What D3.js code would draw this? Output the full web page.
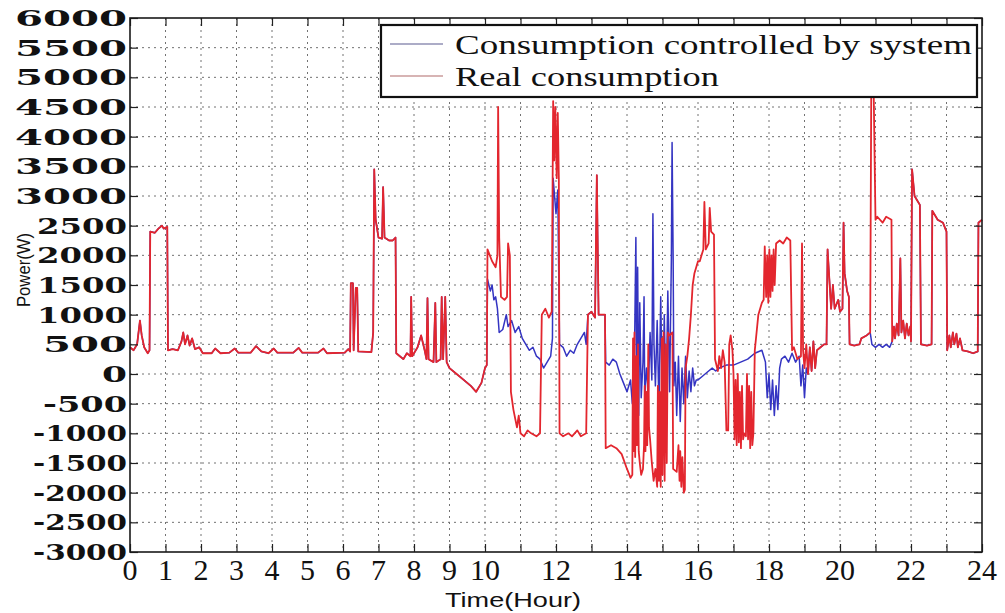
<!DOCTYPE html>
<html><head><meta charset="utf-8">
<script src="https://cdn.jsdelivr.net/npm/d3@7"></script>
<style>body{margin:0;background:#fff}</style>
</head><body>
<svg id="c" width="1005" height="613"></svg>
<script>
// ---------- data ----------
const yTicks = [6000,5500,5000,4500,4000,3500,3000,2500,2000,1500,1000,500,0,-500,-1000,-1500,-2000,-2500,-3000];
const xTicks = [0,1,2,3,4,5,6,7,8,9,10,11,12,13,14,15,16,17,18,19,20,21,22,23,24];
const xTickLabels = [0,1,2,3,4,5,6,7,8,9,10,12,14,16,18,20,22,24];
const seriesNames = ["Consumption controlled by system","Real consumption"];

// Real consumption: [hour, watts]
const realConsumption = [
[0,450],[0.1,400],[0.2,500],[0.28,900],[0.33,650],[0.4,450],[0.5,350],[0.55,400],[0.57,2400],[0.7,2380],[0.8,2450],[0.9,2500],[0.95,2450],[1.05,2480],
[1.07,400],[1.2,420],[1.35,400],[1.45,550],[1.5,700],[1.55,500],[1.62,650],[1.68,480],[1.75,600],[1.83,420],[1.95,450],[2.05,350],[2.3,350],[2.4,430],[2.55,350],
[2.8,360],[2.95,430],[3.05,360],[3.4,360],[3.55,470],[3.7,380],[3.9,350],[4.05,430],[4.15,360],[4.6,360],[4.75,440],[4.85,360],[5.3,360],[5.45,430],[5.55,350],
[6.05,360],[6.15,420],[6.2,380],[6.22,1530],[6.28,1530],[6.3,400],[6.36,1450],[6.4,1450],[6.43,380],[6.8,370],[6.85,700],[6.88,3450],[6.92,2600],[7.0,2300],
[7.1,2280],[7.13,3150],[7.17,2300],[7.3,2250],[7.4,2250],[7.48,2300],[7.5,350],[7.6,300],[7.7,250],[7.8,350],[7.9,300],[7.92,1300],[7.95,300],[8.1,450],
[8.2,650],[8.3,400],[8.35,250],[8.38,1280],[8.41,250],[8.55,200],[8.6,1200],[8.63,200],[8.75,250],[8.78,1300],[8.82,250],[8.88,1300],[8.92,200],[9.0,100],
[9.2,0],[9.4,-100],[9.6,-200],[9.75,-300],[9.9,-150],[10.0,100],[10.05,150],[10.07,2100],[10.2,1900],[10.3,1800],[10.35,2000],[10.37,4500],[10.4,2300],
[10.45,1300],[10.55,1250],[10.62,1300],[10.65,2200],[10.7,2000],[10.73,-300],[10.8,-600],[10.9,-900],[10.95,-700],[11.0,-1000],[11.1,-1050],[11.2,-950],
[11.3,-1000],[11.45,-1050],[11.55,-1000],[11.6,1000],[11.7,1100],[11.8,950],[11.88,1050],[11.92,4600],[11.95,3600],[11.98,4500],[12.02,3300],[12.05,4400],
[12.08,3300],[12.1,-1000],[12.2,-1050],[12.35,-1000],[12.45,-1050],[12.6,-950],[12.7,-1050],[12.85,-1000],[12.9,1000],[13.0,1050],[13.1,950],[13.15,3350],
[13.2,1000],[13.38,1000],[13.4,-1250],[13.55,-1200],[13.7,-1250],[13.85,-1350],[14.0,-1600],[14.1,-1750],[14.15,-1700],[14.17,600],[14.19,-1300],[14.21,700],
[14.23,-1400],[14.26,300],[14.28,-1200],[14.31,500],[14.33,-1300],[14.36,-1500],[14.4,-1700],[14.45,-1600],[14.48,-1200],[14.5,-200],[14.52,-1300],[14.55,-300],
[14.57,-1200],[14.6,500],[14.62,-900],[14.65,-1100],[14.7,-1500],[14.75,-1800],[14.8,-1600],[14.85,-1900],[14.87,-200],[14.9,-1800],[14.92,-300],[14.95,-1900],
[14.98,600],[15.0,-1700],[15.03,700],[15.06,-1800],[15.09,500],[15.12,-1500],[15.15,700],[15.2,650],[15.28,700],[15.3,-1600],[15.4,-1650],[15.45,-1200],
[15.48,-1800],[15.5,-1300],[15.53,-1900],[15.56,-1400],[15.6,-2000],[15.63,-1950],[15.65,100],[15.7,300],[15.75,600],[15.8,1000],[15.85,1500],[15.9,1700],
[15.95,1800],[16.0,1900],[16.05,1900],[16.1,2000],[16.15,2100],[16.18,2900],[16.22,2100],[16.3,2200],[16.33,2800],[16.37,2400],[16.45,2350],[16.48,250],
[16.56,50],[16.6,300],[16.65,100],[16.7,400],[16.75,200],[16.8,-950],[16.85,-950],[16.88,500],[16.92,650],[16.97,400],[17.0,0],[17.03,-1100],[17.06,-100],
[17.09,-1200],[17.12,0],[17.15,-1150],[17.18,-300],[17.21,-1250],[17.24,-200],[17.27,-1100],[17.3,-1000],[17.35,-1050],[17.38,0],[17.41,-1100],[17.44,-200],
[17.47,-1250],[17.5,-300],[17.53,-1200],[17.56,-1000],[17.6,400],[17.65,700],[17.7,1000],[17.75,1100],[17.8,1200],[17.85,1250],[17.88,2150],[17.92,1300],
[17.95,2000],[17.98,1200],[18.01,2100],[18.04,1300],[18.07,2000],[18.1,1400],[18.13,2100],[18.16,1500],[18.2,2200],[18.3,2250],[18.4,2200],[18.5,2300],
[18.6,2250],[18.65,400],[18.7,450],[18.8,250],[18.9,300],[18.93,2200],[18.96,400],[19.0,100],[19.05,500],[19.1,0],[19.15,450],[19.2,50],[19.25,550],[19.3,100],
[19.35,400],[19.45,450],[19.55,500],[19.62,500],[19.65,2100],[19.7,1600],[19.75,1100],[19.8,1500],[19.85,1100],[19.95,1250],[20.0,1050],[20.07,1100],
[20.1,2550],[20.13,1700],[20.2,1400],[20.25,1300],[20.27,500],[20.4,480],[20.55,500],[20.6,600],[20.75,650],[20.85,700],[20.88,4700],[20.95,4700],[21.0,2600],
[21.05,2650],[21.2,2550],[21.3,2650],[21.45,2600],[21.47,550],[21.52,800],[21.55,600],[21.6,850],[21.65,650],[21.7,1950],[21.73,700],[21.78,900],[21.83,600],
[21.88,850],[21.93,650],[21.98,800],[22.0,550],[22.03,3450],[22.1,3000],[22.2,2900],[22.25,2850],[22.28,500],[22.45,480],[22.58,500],[22.6,2750],[22.75,2600],
[22.9,2550],[23.0,2400],[23.02,400],[23.08,650],[23.12,450],[23.18,700],[23.22,500],[23.28,680],[23.32,450],[23.38,600],[23.45,400],[23.6,380],[23.75,350],
[23.88,380],[23.9,2550],[24.0,2600]
];

// Consumption controlled by system: where it differs from the real consumption
const controlledA = [
[10.05,150],[10.07,1600],[10.15,1400],[10.2,1500],[10.25,1250],[10.3,1300],[10.35,1100],[10.4,700],[10.5,750],[10.6,1000],[10.65,800],[10.75,900],[10.85,700],
[10.95,800],[11.05,600],[11.15,500],[11.25,400],[11.35,450],[11.45,300],[11.55,250],[11.65,100],[11.75,200],[11.85,300],[11.9,600],[11.92,3300],[12.0,2700],
[12.05,3100],[12.1,500],[12.2,450],[12.3,300],[12.4,400],[12.5,350],[12.6,500],[12.7,600],[12.8,700],[12.85,500],[12.9,1000]
];
const controlledB = [
[13.38,1000],[13.4,200],[13.5,150],[13.6,250],[13.7,200],[13.8,0],[13.9,-150],[14.0,-300],[14.1,-100],[14.15,-500],[14.2,-200],[14.25,2300],[14.28,-600],
[14.3,1800],[14.33,-700],[14.36,1200],[14.4,-400],[14.45,200],[14.48,1300],[14.5,-400],[14.55,100],[14.6,-300],[14.65,700],[14.7,-100],[14.73,2700],[14.76,500],
[14.8,-200],[14.85,900],[14.9,-600],[14.95,1300],[15.0,-700],[15.05,1000],[15.1,-500],[15.15,1400],[15.2,-300],[15.25,1950],[15.27,3900],[15.3,1950],[15.32,-200],
[15.36,200],[15.4,-700],[15.45,300],[15.5,-800],[15.55,100],[15.6,-500],[15.65,300],[15.7,-400],[15.75,50],[15.8,-300],[15.85,100],[15.9,-200],[15.95,-100],
[16.0,-100],[16.1,-50],[16.2,0],[16.3,50],[16.4,100],[16.5,50],[16.6,100],[16.8,150],[17.0,150],[17.2,200],[17.4,250],[17.6,350],[17.8,400],[17.9,200],
[17.95,-400],[18.0,0],[18.05,-600],[18.1,-100],[18.15,-700],[18.2,-200],[18.25,-600],[18.3,100],[18.35,250],[18.45,300],[18.55,200],[18.65,350],[18.75,200],
[18.85,300],[18.9,-200],[18.95,150],[19.0,-400],[19.05,100],[19.1,0]
];
const controlledC = [
[20.85,700],[20.9,500],[21.0,450],[21.1,500],[21.2,450],[21.3,500],[21.4,450],[21.47,550]
];

// build the controlled series: real values outside the segments, own values inside
function buildControlled(real, segs){
  const out = [];
  let i = 0;
  segs.forEach(seg => {
    const s = seg[0][0], e = seg[seg.length-1][0];
    while (i < real.length && real[i][0] < s) out.push(real[i++]);
    seg.forEach(p => out.push(p));
    while (i < real.length && real[i][0] <= e) i++;
  });
  while (i < real.length) out.push(real[i++]);
  return out;
}
const controlledConsumption = buildControlled(realConsumption, [controlledA, controlledB, controlledC]);

// ---------- drawing ----------
const W = 1005, H = 613;
const L = 130, R = 982, T = 18, B = 552;
const svg = d3.select("#c");
svg.append("rect").attr("width",W).attr("height",H).attr("fill","#fff");

const x = d3.scaleLinear().domain([0,24]).range([L,R]);
const y = d3.scaleLinear().domain([-3000,6000]).range([B,T]);

// grid
const grid = svg.append("g").attr("stroke","#5a5a5a").attr("stroke-width",1).attr("stroke-dasharray","2,4").attr("opacity",0.85);
grid.selectAll("line.gx").data(xTicks.slice(1,-1)).join("line")
  .attr("x1",d=>x(d)).attr("x2",d=>x(d)).attr("y1",T).attr("y2",B);
grid.selectAll("line.gy").data(yTicks.slice(1,-1)).join("line")
  .attr("y1",d=>y(d)).attr("y2",d=>y(d)).attr("x1",L).attr("x2",R);

// lines
const line = d3.line().x(d=>x(d[0])).y(d=>y(d[1]));
const plot = svg.append("g");
plot.append("path").datum(controlledConsumption).attr("d",line)
  .attr("fill","none").attr("stroke","#3434c2").attr("stroke-width",1.5).attr("stroke-linejoin","round");
plot.append("path").datum(realConsumption).attr("d",line)
  .attr("fill","none").attr("stroke","#e3262e").attr("stroke-width",1.8).attr("stroke-linejoin","round");

// axes with inward ticks
const tk = 8;
svg.append("g").attr("transform",`translate(0,${B})`)
  .call(d3.axisBottom(x).tickValues(xTicks).tickSize(-tk).tickFormat(""));
svg.append("g").attr("transform",`translate(0,${T})`)
  .call(d3.axisTop(x).tickValues(xTicks).tickSize(-tk).tickFormat(""));
svg.append("g").attr("transform",`translate(${L},0)`)
  .call(d3.axisLeft(y).tickValues(yTicks).tickSize(-tk).tickFormat(""));
svg.append("g").attr("transform",`translate(${R},0)`)
  .call(d3.axisRight(y).tickValues(yTicks).tickSize(-tk).tickFormat(""));
svg.selectAll(".domain").remove();
svg.selectAll(".tick line").attr("stroke","#222").attr("stroke-width",1.2);
svg.append("rect").attr("x",L).attr("y",T).attr("width",R-L).attr("height",B-T)
  .attr("fill","none").attr("stroke","#1a1a1a").attr("stroke-width",1.6);

// y tick labels (wide bold serif), widths as they appear in the figure
function yLabelWidth(v){
  if (v >= 3000) return 112;
  if (v >= 1000) return 90;
  if (v === 500 || v === -500) return 84;
  if (v === 0) return 25;
  return 94;
}
svg.append("g").selectAll("text").data(yTicks).join("text")
  .attr("x",127).attr("y",d=>y(d)).attr("text-anchor","end").attr("dy","0.37em")
  .attr("textLength",d=>yLabelWidth(d)).attr("lengthAdjust","spacingAndGlyphs")
  .style("font-family","'DejaVu Serif', serif").style("font-weight","bold").style("font-size","22px")
  .attr("fill","#111").text(d=>d);

// x tick labels
svg.append("g").selectAll("text").data(xTickLabels).join("text")
  .attr("x",d=>x(d)).attr("y",580).attr("text-anchor","middle")
  .style("font-family","'Liberation Serif', serif").style("font-size","30px")
  .attr("fill","#111").text(d=>d);

// axis titles
svg.append("text").attr("transform","translate(30,270) rotate(-90)").attr("text-anchor","middle")
  .style("font-family","'Liberation Sans', Arial, sans-serif").style("font-size","18px")
  .attr("textLength",74).attr("lengthAdjust","spacingAndGlyphs").attr("fill","#111").text("Power(W)");
svg.append("text").attr("x",513).attr("y",607).attr("text-anchor","middle")
  .style("font-family","'Liberation Sans', Arial, sans-serif").style("font-size","20px")
  .attr("textLength",136).attr("lengthAdjust","spacingAndGlyphs").attr("fill","#111").text("Time(Hour)");

// legend
const lg = svg.append("g");
lg.append("rect").attr("x",381).attr("y",25).attr("width",596).attr("height",72)
  .attr("fill","#fff").attr("stroke","#111").attr("stroke-width",2.2);
const legColors = ["#5a5a90","#b06a6a"];
const legLens = [517,264];
seriesNames.forEach((n,i)=>{
  const yy = 44 + i*32;
  lg.append("line").attr("x1",390).attr("x2",443).attr("y1",yy).attr("y2",yy)
    .attr("stroke",legColors[i]).attr("stroke-width",1.2);
  lg.append("text").attr("x",455).attr("y",yy+10)
    .style("font-family","'Liberation Serif', serif").style("font-size","27px")
    .attr("textLength",legLens[i]).attr("lengthAdjust","spacingAndGlyphs")
    .attr("fill","#111").text(n);
});
</script>
</body></html>
